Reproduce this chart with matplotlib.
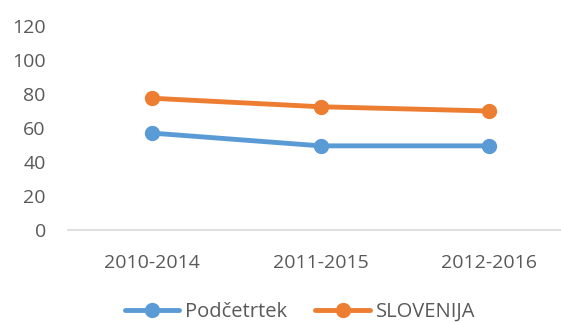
import matplotlib
matplotlib.use('Agg')
import matplotlib.pyplot as plt

# Five-year period indicators
periods = ['2010-2014', '2011-2015', '2012-2016']
podcetrtek = [57, 49.5, 49.5]
slovenija = [77.5, 72.5, 70]

BLUE = '#5B9BD5'
ORANGE = '#ED7D31'
GREY_TEXT = '#595959'

plt.rcParams['font.family'] = ['Open Sans', 'DejaVu Sans']

fig = plt.figure(figsize=(5.61, 3.23), dpi=100)
ax = fig.add_axes([68 / 561, 93 / 323, 505 / 561, 204 / 323])

x = list(range(len(periods)))
ax.plot(x, podcetrtek, color=BLUE, lw=3.5, marker='o', ms=10, label='Podčetrtek',
        solid_capstyle='round')
ax.plot(x, slovenija, color=ORANGE, lw=3.5, marker='o', ms=10, label='SLOVENIJA',
        solid_capstyle='round')

ax.set_xlim(-0.5, len(periods) - 0.5)
ax.set_ylim(0, 120)
ax.set_yticks(range(0, 121, 20))
ax.set_xticks(x)
ax.set_xticklabels(periods)
ax.tick_params(axis='both', length=0, labelsize=14, colors=GREY_TEXT)
ax.tick_params(axis='x', pad=17)
ax.tick_params(axis='y', pad=16)

for side in ['top', 'right', 'left']:
    ax.spines[side].set_visible(False)
ax.spines['bottom'].set_color('#D9D9D9')
ax.spines['bottom'].set_linewidth(1.2)

fig.legend(loc='center', bbox_to_anchor=(300 / 561, 1 - 312 / 323), ncol=2,
           frameon=False, fontsize=14.5, labelcolor=GREY_TEXT,
           handlelength=2.7, handletextpad=0.3, columnspacing=1.4)

fig.savefig('out.png', dpi=100)
